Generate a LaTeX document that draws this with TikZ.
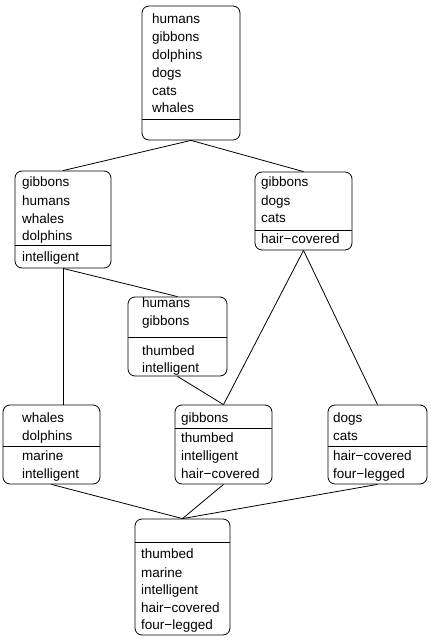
\documentclass[tikz,border=0pt]{standalone}
\usepackage{fontspec}
\setmainfont{Liberation Sans}
\usetikzlibrary{fit}
\tikzset{
  cbox/.style={draw, rounded corners=7bp, line width=0.8bp, inner sep=0pt},
  lbl/.style={anchor=base west, inner sep=0pt, font=\fontsize{13.5bp}{16bp}\selectfont},
  link/.style={line width=0.8bp},
  divl/.style={line width=0.8bp}
}
\begin{document}
\begin{tikzpicture}[x=1bp,y=-1bp]
\useasboundingbox (0,0) rectangle (430,640);
% top
\node[cbox, fit={(142,6) (240,140)}] (T) {};
\draw[divl] (142,119) -- (240,119);
\node[lbl] (t1) at (152,24) {humans};
\node[lbl] (t2) at (152,41.7) {gibbons};
\node[lbl] (t3) at (152,60) {dolphins};
\node[lbl] (t4) at (152,78) {dogs};
\node[lbl] (t5) at (152,96) {cats};
\node[lbl] (t6) at (152,113) {whales};
% A
\node[cbox, fit={(15,171) (111,268)}] (A) {};
\draw[divl] (15,245) -- (111,245);
\node[lbl] (a1) at (22,187) {gibbons};
\node[lbl] (a2) at (22,205) {humans};
\node[lbl] (a3) at (22,223) {whales};
\node[lbl] (a4) at (22,240) {dolphins};
\node[lbl] (a5) at (22,261) {intelligent};
% B
\node[cbox, fit={(255,172) (352,250)}] (B) {};
\draw[divl] (255,230) -- (352,230);
\node[lbl] (b1) at (261,187) {gibbons};
\node[lbl] (b2) at (261,205) {dogs};
\node[lbl] (b3) at (261,222.7) {cats};
\node[lbl] (b4) at (261,243) {hair−covered};
% C
\node[cbox, fit={(128,297) (227,376)}] (C) {};
\draw[divl] (128,337) -- (227,337);
\node[lbl] (c1) at (142,307) {humans};
\node[lbl] (c2) at (142,325) {gibbons};
\node[lbl] (c3) at (142,355) {thumbed};
\node[lbl] (c4) at (142,372) {intelligent};
% D
\node[cbox, fit={(3,405) (100,484)}] (D) {};
\draw[divl] (3,446) -- (100,446);
\node[lbl] (d1) at (22,422) {whales};
\node[lbl] (d2) at (22,440) {dolphins};
\node[lbl] (d3) at (22,460) {marine};
\node[lbl] (d4) at (22,478) {intelligent};
% E
\node[cbox, fit={(175,405) (272,484)}] (E) {};
\draw[divl] (175,428) -- (272,428);
\node[lbl] (e1) at (181,422) {gibbons};
\node[lbl] (e2) at (181,442) {thumbed};
\node[lbl] (e3) at (181,460) {intelligent};
\node[lbl] (e4) at (181,478) {hair−covered};
% F
\node[cbox, fit={(328,405) (427,484)}] (F) {};
\draw[divl] (328,446) -- (427,446);
\node[lbl] (f1) at (333,422) {dogs};
\node[lbl] (f2) at (333,440) {cats};
\node[lbl] (f3) at (333,460) {hair−covered};
\node[lbl] (f4) at (333,478) {four−legged};
% G
\node[cbox, fit={(135,519) (230,635)}] (G) {};
\draw[divl] (135,542) -- (230,542);
\node[lbl] (g1) at (141,558) {thumbed};
\node[lbl] (g2) at (141,577) {marine};
\node[lbl] (g3) at (141,594) {intelligent};
\node[lbl] (g4) at (141,612) {hair−covered};
\node[lbl] (g5) at (141,629) {four−legged};
% links
\draw[link] (T.south) -- (A.north);
\draw[link] (T.south) -- (B.north);
\draw[link] (A.south) -- (A.south |- D.north);
\draw[link] (A.south) -- (C.north);
\draw[link] (B.south) -- (E.north);
\draw[link] (B.south) -- (F.north);
\draw[link] (C.south) -- (E.north);
\draw[link] (D.south) -- (G.north);
\draw[link] (E.south) -- (G.north);
\draw[link] (F.south) -- (G.north);
\end{tikzpicture}
\end{document}
